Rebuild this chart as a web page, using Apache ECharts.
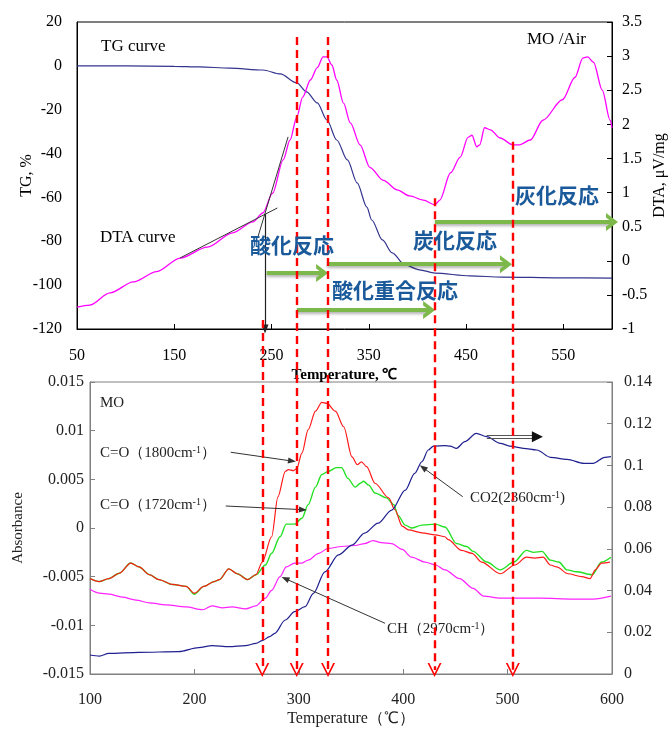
<!DOCTYPE html>
<html><head><meta charset="utf-8">
<script src="https://cdn.jsdelivr.net/npm/echarts@6/dist/echarts.min.js"></script>
<style>html,body{margin:0;padding:0;background:#fff}#c{width:670px;height:729px}</style>
</head><body><div id="c"></div><script>
// ---------- Top chart (TG / DTA) ----------
const tgT = [50,100,150,176,207,241,259,276,286,297,307,317,328,338,348,353,364,374,387,402,418,454,487,547,600];
const tgV = [0,0,-0.2,-0.5,-1,-1.9,-3.7,-7.8,-11.9,-16.9,-24.7,-33.8,-42.9,-53.4,-64.4,-70.3,-79.4,-85.3,-90.8,-93,-94.5,-95.8,-96.3,-96.7,-96.8];
const dtaT = [50,63,84,108,132,156,184,210,231,241,251,262,269,276,282,290,297,303,307,312,317,324,331,341,351,365,379,392,406,418,423,434,444,452,456,461,464,469,475,485,498,505,516,529,549,562,570,575,581,590,598,600];
const dtaV = [-0.68,-0.65,-0.47,-0.31,-0.16,0.04,0.20,0.41,0.57,0.70,0.99,1.48,1.77,2.11,2.40,2.65,2.83,2.99,2.99,2.87,2.65,2.31,2.02,1.70,1.37,1.18,1.04,0.95,0.89,0.82,0.89,1.29,1.52,1.81,1.84,1.67,1.70,1.95,1.92,1.80,1.70,1.70,1.77,2.06,2.36,2.69,2.97,2.99,2.91,2.50,2.06,1.95];
// ---------- Bottom chart (FT-IR absorbance) ----------
const redT = [100,109,118,128,139,147,157,166,179,192,200,209,219,224,233,241,251,259,265,274,280,287,290,295,298,303,309,316,322,327,335,343,351,356,360,365,373,386,392,399,405,418,431,440,443,456,466,475,493,507,518,526,534,541,547,558,571,579,584,590,598];
const redV = [-0.0052,-0.0055,-0.0052,-0.00465,-0.0036,-0.004,-0.0048,-0.0053,-0.0058,-0.006,-0.0067,-0.006,-0.0055,-0.0053,-0.0042,-0.0047,-0.0053,-0.0048,-0.0035,-0.0009,0.0032,0.0058,0.006,0.0059,0.0061,0.0077,0.0101,0.012,0.0129,0.0128,0.012,0.0104,0.0073,0.0065,0.0068,0.0063,0.0046,0.0031,0.0019,0.0002,-0.0002,-0.0005,-0.0007,-0.0009,-0.0012,-0.0023,-0.0026,-0.0035,-0.0047,-0.0038,-0.003,-0.0031,-0.003,-0.0038,-0.004,-0.0047,-0.005,-0.0052,-0.0043,-0.0036,-0.0035];
const greenT = [100,109,118,128,139,147,157,166,179,192,200,209,219,224,233,241,251,259,268,274,282,288,296,303,309,316,322,328,336,341,347,354,359,362,367,373,384,391,395,402,408,418,431,440,451,461,467,480,493,506,518,525,533,541,549,557,566,581,590,599];
const greenV = [-0.0052,-0.0055,-0.0052,-0.00465,-0.0036,-0.004,-0.0048,-0.0053,-0.0058,-0.006,-0.0068,-0.006,-0.0055,-0.0053,-0.0042,-0.0047,-0.0053,-0.0048,-0.0038,-0.0026,-0.0009,0.0004,0.0004,0.001,0.0024,0.0042,0.0055,0.0058,0.0062,0.0062,0.0051,0.0042,0.0046,0.0048,0.0044,0.0036,0.0031,0.0024,0.0013,0.0003,0.0,0.0003,0.0004,0.0001,-0.0016,-0.0019,-0.0024,-0.0035,-0.0043,-0.0035,-0.0023,-0.0025,-0.0024,-0.0033,-0.0035,-0.0043,-0.0045,-0.0048,-0.0035,-0.003];
const chT = [100,109,118,131,144,157,173,192,208,217,227,236,249,259,268,274,282,288,296,303,309,319,328,341,354,363,371,379,389,399,408,421,431,440,454,467,477,493,531,563,582,599];
const chV = [-0.0063,-0.0067,-0.0068,-0.0071,-0.0074,-0.0077,-0.0079,-0.0081,-0.0084,-0.008,-0.0082,-0.0081,-0.0083,-0.008,-0.0072,-0.0064,-0.005,-0.004,-0.0036,-0.0036,-0.0033,-0.0026,-0.0021,-0.0019,-0.0018,-0.0016,-0.0013,-0.0015,-0.0016,-0.0022,-0.003,-0.0035,-0.0038,-0.0043,-0.0052,-0.0062,-0.007,-0.0072,-0.0072,-0.0073,-0.0073,-0.007];
const co2T = [100,109,118,147,185,204,217,233,249,259,265,272,277,287,296,306,314,325,338,351,363,376,389,402,411,418,424,429,440,445,451,459,470,480,493,502,515,528,541,557,573,582,593,599];
const co2V = [0.0091,0.0086,0.0099,0.0104,0.0107,0.0126,0.0136,0.0131,0.0136,0.0147,0.016,0.0179,0.0195,0.0259,0.0299,0.0323,0.0387,0.049,0.0571,0.0618,0.0675,0.0723,0.0786,0.0882,0.0962,0.1018,0.1074,0.1093,0.1095,0.1093,0.1082,0.1114,0.1154,0.1138,0.1106,0.1093,0.1082,0.1074,0.1039,0.1029,0.101,0.101,0.1039,0.1042];
// ---------- Annotation positions (in axis units) ----------
// reaction-onset temperatures marked with red dashed arrows (bottom temperature axis), and their top ends (% of overlay height)
const markTemps = [265, 298, 328, 430, 505];
const markTops  = [54.5, 97.7, 97.7, 73.1, 81.7];
// green reaction-range arrows on the DTA axis: [fromT, toT, DTA level]
const rangeArrows = [[245, 302, -0.18], [307, 491, -0.05], [276, 412, -0.72], [418, 600, 0.57]];
const reactionLabels = ['酸化反応', '炭化反応', '酸化重合反応', '灰化反応'];

const d = (xs, ys) => xs.map((x, i) => [x, ys[i]]);
const SERIF = '"Liberation Serif", "Times New Roman", serif';
const chevRed = 'path://M0,14 L7,0 L14,14 L12.2,14 L7,3.6 L1.8,14 Z';
const chevGreen = 'path://M0,14 L10,0 L20,14 L15,14 L10,7 L5,14 Z';

const chart = echarts.init(document.getElementById('c'), null, {renderer: 'canvas'});

function valAxis(o) {
  return Object.assign({
    type: 'value', splitLine: {show: false}, nameMoveOverlap: false,
    axisLine: {show: true, onZero: false, lineStyle: {color: '#000', width: 1}},
    axisTick: {show: true, inside: true, length: 5, lineStyle: {color: '#000'}},
    axisLabel: {color: '#000', fontFamily: SERIF, fontSize: 16}
  }, o);
}
const grayLine = {show: true, onZero: false, lineStyle: {color: '#808080', width: 1}};
const grayTick = {show: true, inside: true, length: 5, lineStyle: {color: '#808080'}};
const botLabel = {color: '#222', fontFamily: SERIF, fontSize: 16};

const noLabel = {show: false};
function ml(data, style, sym, symSize) {
  return {silent: true, animation: false, symbol: ['none', sym || 'none'], symbolSize: symSize || 8,
    label: noLabel, emphasis: {disabled: true}, lineStyle: style, data: data};
}
const rich15 = {a: {font: '15px ' + SERIF, fill: '#222'}, s: {font: '10px ' + SERIF, fill: '#222', verticalAlign: 'top'}};
const jpFont = 'bold 21px "Noto Sans CJK JP"';

const option = {
  animation: false,
  backgroundColor: '#fff',
  grid: [
    {left: 77, right: 58, top: 22, height: 307, show: true, borderColor: '#000', borderWidth: 1, outerBoundsMode: 'none'},
    {left: 90, right: 58, top: 382, height: 292, show: true, borderColor: '#808080', borderWidth: 1, outerBoundsMode: 'none'},
    {left: 90, right: 58, top: 22, bottom: 52, outerBoundsMode: 'none'}
  ],
  xAxis: [
    valAxis({gridIndex: 0, min: 50, max: 600, interval: 100,
      axisLabel: {color: '#000', fontFamily: SERIF, fontSize: 16, margin: 19, showMaxLabel: false},
      name: 'Temperature, ℃', nameLocation: 'middle', nameGap: 39,
      nameTextStyle: {fontFamily: SERIF, fontSize: 15, fontWeight: 'bold', color: '#000'}}),
    valAxis({gridIndex: 1, min: 100, max: 600, interval: 100, axisLine: grayLine, axisTick: grayTick,
      axisLabel: Object.assign({margin: 18}, botLabel),
      name: 'Temperature（℃）', nameLocation: 'middle', nameGap: 37,
      nameTextStyle: {fontFamily: SERIF, fontSize: 16, color: '#222'}}),
    {gridIndex: 2, type: 'value', min: 100, max: 600, show: false}
  ],
  yAxis: [
    valAxis({gridIndex: 0, min: -120, max: 20, interval: 20, axisTick: {show: false},
      axisLabel: {color: '#000', fontFamily: SERIF, fontSize: 16, margin: 15},
      name: 'TG, %', nameLocation: 'middle', nameGap: 42,
      nameTextStyle: {fontFamily: SERIF, fontSize: 16, color: '#000'}}),
    valAxis({gridIndex: 0, position: 'right', min: -1, max: 3.5, interval: 0.5,
      axisLabel: {color: '#000', fontFamily: SERIF, fontSize: 16, margin: 10},
      name: 'DTA, μV/mg', nameLocation: 'middle', nameGap: 40,
      nameTextStyle: {fontFamily: SERIF, fontSize: 16, color: '#000'}}),
    valAxis({gridIndex: 1, min: -0.015, max: 0.015, interval: 0.005, axisLine: grayLine, axisTick: grayTick,
      axisLabel: Object.assign({margin: 6}, botLabel),
      name: 'Absorbance', nameLocation: 'middle', nameGap: 64,
      nameTextStyle: {fontFamily: SERIF, fontSize: 15, color: '#222'}}),
    valAxis({gridIndex: 1, position: 'right', min: 0, max: 0.14, interval: 0.02, axisLine: grayLine, axisTick: grayTick,
      axisLabel: Object.assign({margin: 12}, botLabel)}),
    {gridIndex: 2, type: 'value', min: 0, max: 100, show: false}
  ],
  series: [
    {name: 'TG', type: 'line', xAxisIndex: 0, yAxisIndex: 0, data: d(tgT, tgV), showSymbol: false, smooth: 0.3, smoothMonotone: 'x',
      lineStyle: {color: '#34348f', width: 1.2}, z: 3,
      markLine: ml([
        [{coord: [156, -87.6]}, {coord: [256, -64.8]}],
        [{coord: [267, -32.4]}, {coord: [236, -78.0]}]
      ], {color: '#333', width: 1, type: 'solid'})},
    {name: 'TGarrow', type: 'line', xAxisIndex: 0, yAxisIndex: 0, data: [], showSymbol: false,
      markLine: ml([[{coord: [243.3, -67.6]}, {coord: [243.3, -120]}]], {color: '#222', width: 1.2, type: 'solid'}, 'triangle', [7, 9])},
    {name: 'DTA', type: 'line', xAxisIndex: 0, yAxisIndex: 1, data: d(dtaT, dtaV), showSymbol: false, smooth: 0.3, smoothMonotone: 'x',
      lineStyle: {color: '#ff00ff', width: 1.3}, z: 3},
    {name: 'ranges', type: 'line', xAxisIndex: 0, yAxisIndex: 1, data: [], showSymbol: false, z: 4,
      markLine: ml(rangeArrows.map(a => [{coord: [a[0], a[2]]}, {coord: [a[1], a[2]]}]),
        {color: '#7cb94a', width: 4, type: 'solid', shadowColor: 'rgba(0,0,0,0.3)', shadowBlur: 3, shadowOffsetY: 2},
        chevGreen, [18, 12])},
    {name: 'C=O 1720', type: 'line', xAxisIndex: 1, yAxisIndex: 2, data: d(greenT, greenV), showSymbol: false, smooth: 0.3, smoothMonotone: 'x',
      lineStyle: {color: '#22e022', width: 1.4}, z: 3},
    {name: 'C=O 1800', type: 'line', xAxisIndex: 1, yAxisIndex: 2, data: d(redT, redV), showSymbol: false, smooth: 0.3, smoothMonotone: 'x',
      lineStyle: {color: '#ff1a1a', width: 1.2}, z: 3},
    {name: 'CH 2970', type: 'line', xAxisIndex: 1, yAxisIndex: 2, data: d(chT, chV), showSymbol: false, smooth: 0.3, smoothMonotone: 'x',
      lineStyle: {color: '#ff22ff', width: 1.2}, z: 3},
    {name: 'CO2 2360', type: 'line', xAxisIndex: 1, yAxisIndex: 3, data: d(co2T, co2V), showSymbol: false, smooth: 0.3, smoothMonotone: 'x',
      lineStyle: {color: '#202090', width: 1.2}, z: 3},
    {name: 'pointers', type: 'line', xAxisIndex: 1, yAxisIndex: 2, data: [], showSymbol: false, z: 4,
      markLine: ml([
        [{coord: [234.8, 0.00778]}, {coord: [293.5, 0.00688]}],
        [{coord: [230.0, 0.00226]}, {coord: [304.0, 0.00188]}],
        [{coord: [382.6, -0.00979]}, {coord: [287.0, -0.00520]}],
        [{coord: [457.0, 0.00322]}, {coord: [419.0, 0.00620]}]
      ], {color: '#333', width: 1, type: 'solid'}, 'triangle', [6, 8])},
    {name: 'axisPointer', type: 'line', xAxisIndex: 1, yAxisIndex: 2, data: [], showSymbol: false, z: 4,
      markLine: ml([
        [{coord: [480, 0.00951]}, {coord: [530, 0.00951]}],
        [{coord: [480, 0.00925]}, {coord: [530, 0.00925]}]
      ], {color: '#555', width: 1.2, type: 'solid'})},
    {name: 'axisPointerHead', type: 'line', xAxisIndex: 1, yAxisIndex: 2, data: [], showSymbol: false, z: 4,
      markLine: ml([[{coord: [526, 0.00938]}, {coord: [528.5, 0.00938]}]], {color: '#111', width: 1, type: 'solid'}, 'triangle', [11, 11])},
    {name: 'onsets', type: 'line', xAxisIndex: 2, yAxisIndex: 4, data: [], showSymbol: false, z: 5,
      markLine: ml(markTemps.map((t, i) => [{coord: [t, markTops[i]]}, {coord: [t, 1.07]}]),
        {color: '#ff0000', width: 2.4, type: [8, 5]}, chevRed, [14, 14])}
  ],
  graphic: {elements: [
    {type: 'text', x: 101, y: 47, style: {text: 'TG curve', font: '17px ' + SERIF, fill: '#000', verticalAlign: 'middle'}},
    {type: 'text', x: 100, y: 238, style: {text: 'DTA curve', font: '17px ' + SERIF, fill: '#000', verticalAlign: 'middle'}},
    {type: 'text', x: 527, y: 40, style: {text: 'MO /Air', font: '17px ' + SERIF, fill: '#000', verticalAlign: 'middle'}},
    {type: 'text', x: 100, y: 403, style: {text: 'MO', font: '15px ' + SERIF, fill: '#222', verticalAlign: 'middle'}},
    {type: 'text', x: 100, y: 453, style: {text: '{a|C=O（1800cm}{s|-1}{a|）}', verticalAlign: 'middle', rich: rich15}},
    {type: 'text', x: 100, y: 505, style: {text: '{a|C=O（1720cm}{s|-1}{a|）}', verticalAlign: 'middle', rich: rich15}},
    {type: 'text', x: 470, y: 498, style: {text: '{a|CO2(2360cm}{s|-1}{a|)}', verticalAlign: 'middle', rich: rich15}},
    {type: 'text', x: 387, y: 629, style: {text: '{a|CH（2970cm}{s|-1}{a|）}', verticalAlign: 'middle', rich: rich15}},
    {type: 'text', x: 250, y: 245, z: 10, style: {text: reactionLabels[0], font: jpFont, fill: '#1b5a9a', verticalAlign: 'middle'}},
    {type: 'text', x: 413, y: 240, z: 10, style: {text: reactionLabels[1], font: jpFont, fill: '#1b5a9a', verticalAlign: 'middle'}},
    {type: 'text', x: 332, y: 290, z: 10, style: {text: reactionLabels[2], font: jpFont, fill: '#1b5a9a', verticalAlign: 'middle'}},
    {type: 'text', x: 515, y: 195, z: 10, style: {text: reactionLabels[3], font: jpFont, fill: '#1b5a9a', verticalAlign: 'middle'}}
  ]}
};
chart.setOption(option);
</script></body></html>
